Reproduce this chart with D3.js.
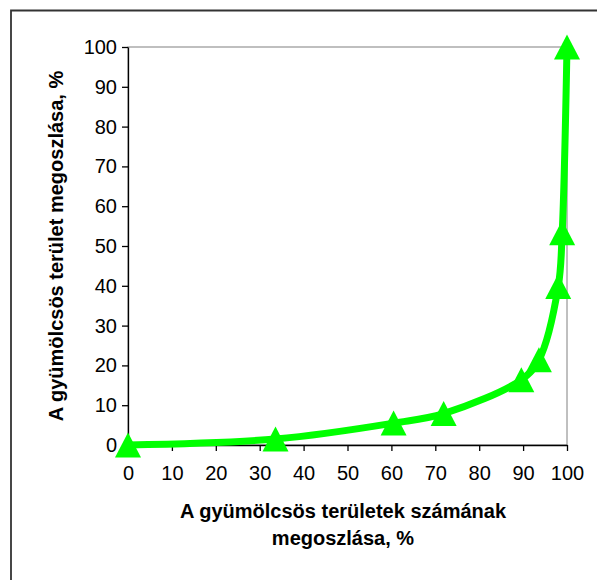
<!DOCTYPE html>
<html lang="hu">
<head>
    <meta charset="UTF-8">
    <title>Gyümölcsös területek megoszlása</title>
    <script src="https://d3js.org/d3.v7.min.js"></script>
    <style>
        body { margin: 0; background: #fff; }
        svg { display: block; font-family: "Liberation Sans", Arial, sans-serif; }
    </style>
</head>
<body>
    <div id="chart"></div>
    <script>

// share of orchard holdings (x) vs share of orchard area (y), cumulative %
var holdingShare = [0, 33.6, 60.5, 71.9, 89.6, 93.6, 98.0, 98.9, 100];
var areaShare    = [0, 1.5, 5.5, 7.9, 16.4, 21.4, 39.8, 53.3, 100];
var xTicks = [0, 10, 20, 30, 40, 50, 60, 70, 80, 90, 100];
var yTicks = [0, 10, 20, 30, 40, 50, 60, 70, 80, 90, 100];
var yTitle = 'A gyümölcsös terület megoszlása, %';
var xTitle = ['A gyümölcsös területek számának', 'megoszlása, %'];

var width = 597, height = 580;
var margin = {top: 47, left: 128, right: 30, bottom: 135};
var lineColor = '#00ff00';

var svg = d3.select('#chart').append('svg')
    .attr('width', width)
    .attr('height', height);

// outer chart frame (only top and left visible in the original)
svg.append('path')
    .attr('d', 'M11,580 V10.5 H597')
    .attr('fill', 'none')
    .attr('stroke', '#333')
    .attr('stroke-width', 1.8);

var x = d3.scaleLinear().domain([0, 100]).range([margin.left, width - margin.right]);
var y = d3.scaleLinear().domain([0, 100]).range([height - margin.bottom, margin.top]);

// plot area border
svg.append('rect')
    .attr('x', x(0)).attr('y', y(100))
    .attr('width', x(100) - x(0)).attr('height', y(0) - y(100))
    .attr('fill', 'none')
    .attr('stroke', '#808080')
    .attr('stroke-width', 1);

var xAxis = svg.append('g')
    .attr('transform', 'translate(0,' + y(0) + ')')
    .call(d3.axisBottom(x).tickValues(xTicks).tickSize(6).tickPadding(15).tickSizeOuter(0));

var yAxis = svg.append('g')
    .attr('transform', 'translate(' + x(0) + ',0)')
    .call(d3.axisLeft(y).tickValues(yTicks).tickSize(6).tickPadding(5).tickSizeOuter(0));

[xAxis, yAxis].forEach(function(g) {
    g.select('.domain').attr('stroke', '#000').attr('stroke-width', 1.3);
    g.selectAll('.tick line').attr('stroke', '#000').attr('stroke-width', 1.3);
    g.selectAll('.tick text')
        .attr('fill', '#000')
        .style('font-size', '20px')
        .style('font-family', '"Liberation Sans", Arial, sans-serif');
});

var data = holdingShare.map(function(d, i) { return [d, areaShare[i]]; });

var line = d3.line()
    .x(function(d) { return x(d[0]); })
    .y(function(d) { return y(d[1]); })
    .curve(d3.curveCatmullRom.alpha(0.5));

svg.append('path')
    .datum(data)
    .attr('d', line)
    .attr('fill', 'none')
    .attr('stroke', lineColor)
    .attr('stroke-width', 7)
    .attr('stroke-linejoin', 'round');

// triangle markers, centred on their bounding box like Excel does
var tw = 13, th = 12.5;
svg.selectAll('path.marker')
    .data(data)
    .enter()
    .append('path')
    .attr('class', 'marker')
    .attr('d', 'M0,' + (-th) + 'L' + tw + ',' + th + 'L' + (-tw) + ',' + th + 'Z')
    .attr('transform', function(d) { return 'translate(' + x(d[0]) + ',' + y(d[1]) + ')'; })
    .attr('fill', lineColor);

// axis titles
svg.append('text')
    .attr('transform', 'translate(63,' + ((y(0) + y(100)) / 2) + ') rotate(-90)')
    .attr('text-anchor', 'middle')
    .style('font-size', '20px')
    .style('font-weight', 'bold')
    .text(yTitle);

svg.append('text')
    .attr('text-anchor', 'middle')
    .style('font-size', '20px')
    .style('font-weight', 'bold')
    .selectAll('tspan')
    .data(xTitle)
    .enter()
    .append('tspan')
    .attr('x', 343)
    .attr('y', function(d, i) { return 518 + i * 27; })
    .text(function(d) { return d; });

    </script>
</body>
</html>
